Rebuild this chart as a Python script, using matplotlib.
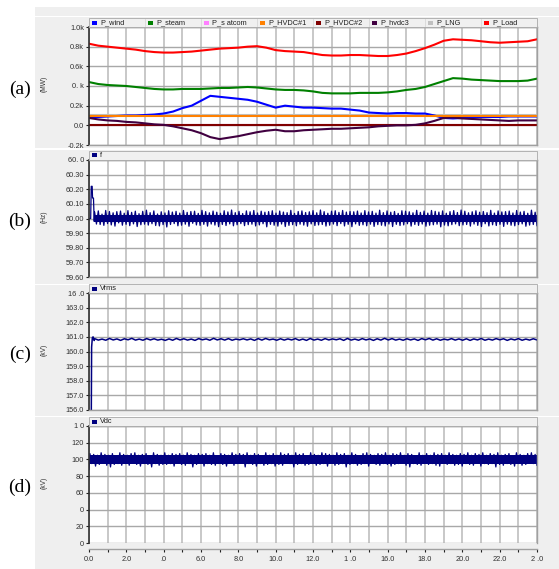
import matplotlib.pyplot as plt
import matplotlib.ticker as mticker
from matplotlib.patches import Rectangle
from matplotlib.lines import Line2D
import numpy as np

plt.rcParams['font.family'] = ['Liberation Sans', 'DejaVu Sans']

W, H = 559, 569

# ---------------- data ----------------
# (a) powers in k(MW), sampled every 0.5 s
t_a = np.arange(0, 24.01, 0.5)
p_load = [0.83, 0.81, 0.80, 0.79, 0.78, 0.77, 0.755, 0.745, 0.74, 0.74, 0.745, 0.75, 0.76,
          0.77, 0.78, 0.785, 0.79, 0.80, 0.805, 0.79, 0.765, 0.755, 0.75, 0.745, 0.73,
          0.715, 0.71, 0.71, 0.715, 0.715, 0.71, 0.705, 0.705, 0.715, 0.73, 0.755, 0.785,
          0.82, 0.86, 0.875, 0.87, 0.865, 0.855, 0.845, 0.84, 0.845, 0.85, 0.855, 0.875]
p_steam = [0.44, 0.42, 0.41, 0.405, 0.40, 0.39, 0.38, 0.37, 0.365, 0.365, 0.37, 0.37, 0.37,
           0.375, 0.38, 0.38, 0.385, 0.39, 0.385, 0.375, 0.365, 0.36, 0.36, 0.355, 0.345,
           0.33, 0.325, 0.325, 0.325, 0.33, 0.33, 0.33, 0.335, 0.345, 0.36, 0.37, 0.39,
           0.42, 0.45, 0.48, 0.475, 0.465, 0.46, 0.455, 0.45, 0.45, 0.45, 0.455, 0.475]
p_wind = [0.08, 0.085, 0.09, 0.095, 0.10, 0.10, 0.105, 0.11, 0.12, 0.14, 0.175, 0.20, 0.25,
          0.30, 0.29, 0.28, 0.27, 0.26, 0.24, 0.21, 0.18, 0.20, 0.19, 0.18, 0.18,
          0.175, 0.17, 0.17, 0.16, 0.15, 0.13, 0.125, 0.12, 0.125, 0.125, 0.12, 0.12,
          0.10, 0.075, 0.07, 0.075, 0.08, 0.085, 0.085, 0.085, 0.09, 0.09, 0.09, 0.09]
p_hvdc3 = [0.075, 0.06, 0.05, 0.045, 0.035, 0.03, 0.02, 0.01, 0.005, -0.01, -0.03, -0.05, -0.08,
           -0.12, -0.14, -0.125, -0.11, -0.09, -0.07, -0.055, -0.045, -0.06, -0.06, -0.05, -0.045,
           -0.04, -0.035, -0.035, -0.03, -0.025, -0.02, -0.01, -0.005, 0.0, 0.0, 0.005, 0.02,
           0.045, 0.075, 0.08, 0.07, 0.065, 0.06, 0.055, 0.05, 0.045, 0.05, 0.05, 0.05]
p_hvdc1 = [0.09] * len(t_a)
p_lng = [0.10] * len(t_a)
p_hvdc2 = [0.0] * len(t_a)
p_statcom = [0.0] * len(t_a)

# (b) frequency: start-up transient, then oscillation (offsets in mHz around 60 Hz)
t_f0 = [0, 0.09, 0.12, 0.17, 0.19, 0.24, 0.28]
f0 = [60.0, 60.0, 60.22, 60.22, 60.14, 60.14, 59.98]
f_core = (59.978, 60.025)
f_dev = [45, -38, 52, -41, 30, -47, 55, -35, 48, -44, 39, -52, 47, -30, 51, -46, 36, -40, 54, -49,
         42, -37, 50, -55, 33, -43, 49, -39, 57, -45, 40, -36, 52, -48, 31, -51, 46, -42, 38, -58,
         53, -41, 44, -35, 49, -50, 37, -46, 55, -39, 42, -53, 48, -33, 50, -44, 35, -47, 56, -40,
         47, -52, 39, -38, 51, -45, 43, -56, 36, -41, 53, -48, 45, -37, 58, -50, 40, -43, 49, -35,
         34, -49, 52, -42, 46, -39, 55, -51, 38, -44, 50, -36, 43, -57, 47, -40, 53, -46, 37, -52,
         51, -38, 44, -55, 40, -47, 56, -42, 35, -50, 48, -39, 52, -45, 41, -53, 46, -37, 54, -48,
         39, -44, 58, -41, 47, -52, 36, -46, 50, -38, 53, -49, 42, -35, 55, -51, 44, -40, 48, -56,
         46, -37, 51, -47, 38, -43, 54, -50, 45, -39, 49, -54, 37, -42, 57, -46, 40, -51, 52, -38,
         43, -55, 48, -40, 35, -48, 53, -44, 50, -36, 46, -52, 39, -41, 56, -47, 42, -38, 51, -53,
         37, -46, 55, -43, 49, -39, 44, -57, 52, -45, 36, -50, 47, -42, 54, -37, 41, -49, 58, -44,
         50, -41, 39, -52, 46, -38, 53, -47, 43, -55, 48, -36, 40, -51, 56, -43, 37, -48, 52, -40,
         45, -54, 47, -39, 51, -46, 38, -50, 55, -42, 44, -37, 49, -53, 36, -45, 57, -41, 43, -49]

# (c) Vrms: start-up then small ripple (offsets in 0.01 kV around 160.82)
t_v0 = [0, 0.12, 0.14, 0.18, 0.22, 0.28]
v0 = [155.0, 155.0, 160.3, 160.95, 161.0, 160.75]
v_dev = [6, -4, 3, -5, 7, -3, 4, -6, 5, -2, 8, -4, 3, -5, 6, -3, 5, -4, 2, -6,
         4, -5, 7, -3, 5, -4, 3, -6, 6, -2, 4, -5, 8, -3, 5, -4, 6, -5, 3, -2,
         5, -3, 4, -6, 6, -4, 7, -2, 3, -5, 5, -4, 4, -3, 6, -5, 3, -6, 7, -4,
         3, -5, 6, -3, 4, -2, 5, -6, 7, -4, 3, -5, 6, -3, 4, -6, 5, -4, 8, -3,
         6, -4, 3, -5, 5, -3, 4, -6, 6, -2, 7, -4, 5, -5, 3, -3, 6, -4, 4, -5,
         5, -6, 4, -3, 7, -5, 3, -4, 6, -2, 5, -6, 4, -3, 6, -5, 3, -4, 5, -3]

# (d) Vdc (offsets in kV around 100)
vdc_start = 88
vdc_core = (95, 105)
vdc_dev = [7, -5, 6, -8, 5, -6, 8, -4, 6, -7, 5, -9, 7, -6, 4, -5, 8, -7, 6, -5,
           5, -7, 7, -4, 8, -6, 5, -8, 6, -5, 7, -6, 4, -9, 8, -5, 6, -7, 5, -6,
           8, -6, 5, -5, 7, -8, 6, -4, 7, -6, 5, -7, 8, -5, 6, -9, 5, -6, 7, -4,
           6, -8, 7, -5, 5, -6, 8, -7, 4, -5, 7, -6, 6, -8, 5, -4, 8, -7, 6, -5,
           7, -4, 6, -9, 8, -5, 5, -6, 7, -8, 6, -5, 4, -7, 8, -6, 5, -5, 7, -8,
           5, -6, 8, -7, 6, -4, 7, -5, 5, -9, 8, -6, 6, -5, 7, -7, 4, -6, 8, -5,
           6, -7, 5, -6, 8, -5, 7, -8, 6, -4, 5, -7, 8, -6, 6, -5, 7, -9, 5, -6,
           8, -5, 6, -7, 4, -6, 7, -5, 8, -8, 6, -4, 5, -6, 7, -7, 6, -5, 8, -6,
           5, -8, 7, -6, 6, -5, 8, -4, 5, -7, 7, -9, 6, -5, 4, -6, 8, -7, 5, -5,
           7, -6, 5, -5, 8, -7, 6, -8, 7, -4, 5, -6, 8, -5, 6, -7, 5, -6, 7, -8,
           6, -5, 8, -6, 5, -7, 7, -4, 6, -8, 8, -5, 5, -6, 7, -5, 6, -9, 8, -6,
           5, -7, 6, -5, 7, -6, 4, -8, 8, -5, 6, -7, 5, -6, 7, -4, 8, -5, 6, -7]

x_ticks = [0, 2, 4, 6, 8, 10, 12, 14, 16, 18, 20, 22, 24]
x_labels = ['0.0', '2.0', '.0', '6.0', '8.0', '10.0', '12.0', '1 .0', '16.0', '18.0', '20.0', '22.0', '2 .0']

ya_ticks = [1.0, 0.8, 0.6, 0.4, 0.2, 0.0, -0.2]
ya_labels = ['1.0k', '0.8k', '0.6k', '0. k', '0.2k', '0.0', '-0.2k']
yb_ticks = [60.4, 60.3, 60.2, 60.1, 60.0, 59.9, 59.8, 59.7, 59.6]
yb_labels = ['60. 0', '60.30', '60.20', '60.10', '60.00', '59.90', '59.80', '59.70', '59.60']
yc_ticks = [164, 163, 162, 161, 160, 159, 158, 157, 156]
yc_labels = ['16 .0', '163.0', '162.0', '161.0', '160.0', '159.0', '158.0', '157.0', '156.0']
yd_ticks = [140, 120, 100, 80, 60, 40, 20, 0]
yd_labels = ['1 0', '120', '100', '80', '60', ' 0', '20', '0']

names_a = ['P_wind', 'P_steam', 'P_s atcom', 'P_HVDC#1', 'P_HVDC#2', 'P_hvdc3', 'P_LNG', 'P_Load']
colors_a = ['#0000ff', '#008000', '#ff80ff', '#ff8000', '#800000', '#400040', '#c0c0c0', '#ff0000']
navy = '#000080'

# ---------------- layout ----------------
fig = plt.figure(figsize=(W / 100, H / 100), dpi=100)


def fx(px):
    return px / W


def fy(py):
    return 1 - py / H


def rect(x0, y0, x1, y1, z=1, **kw):
    fig.patches.append(Rectangle((fx(x0), fy(y1)), (x1 - x0) / W, (y1 - y0) / H,
                                 transform=fig.transFigure, zorder=z, **kw))


# grey panel backgrounds (behind the axes)
for top, bot in [(7, 148.5), (150, 283.5), (285, 415.5), (417, 569)]:
    rect(35, top, 559, bot, z=-10, fc='#efefef', ec='none')
rect(35, 16.3, 559, 17.3, z=-9, fc='white', ec='none')


def legend_strip(top, names, colors):
    rect(89, top, 537, top + 9, fc='#f0f0f0', ec='#a8a8a8', lw=0.6)
    for i, (nm, c) in enumerate(zip(names, colors)):
        x = 92 + 56 * i
        if i > 0:
            fig.add_artist(Line2D([fx(x - 3), fx(x - 3)], [fy(top + 1), fy(top + 8)],
                                  transform=fig.transFigure, color='#d8d8d8', lw=0.6))
        rect(x, top + 2.5, x + 5, top + 6.5, z=2, fc=c, ec='none')
        fig.text(fx(x + 8), fy(top + 4.6), nm, fontsize=5.3, va='center', ha='left',
                 color='#202020')


def make_axes(top, bot, ylim, ticks, labels, unit, panel, bottom_axis=False):
    ax = fig.add_axes([fx(89), fy(bot), (537 - 89) / W, (bot - top) / H])
    ax.set_facecolor('white')
    ax.set_xlim(0, 24)
    ax.set_ylim(*ylim)
    ax.set_yticks(ticks)
    ax.set_yticklabels(labels)
    ax.xaxis.set_major_locator(mticker.MultipleLocator(2))
    ax.xaxis.set_minor_locator(mticker.MultipleLocator(1))
    ax.grid(axis='x', which='both', color='#c8c8c8', lw=1.4)
    ax.grid(axis='y', which='major', color='#a8a8a8', lw=1.0)
    ax.set_axisbelow(True)
    ax.tick_params(axis='y', length=2.5, width=0.8, color='#202020', labelsize=5.3,
                   pad=1, labelcolor='#303030')
    ax.spines['left'].set_color('#303030')
    ax.spines['left'].set_linewidth(1.2)
    for s in ['top', 'right', 'bottom']:
        ax.spines[s].set_color('#a0a0a0')
        ax.spines[s].set_linewidth(1.0)
    if bottom_axis:
        ax.spines['bottom'].set_position(('outward', 4))
        ax.set_xticks(x_ticks)
        ax.set_xticklabels(x_labels)
        ax.tick_params(axis='x', which='both', length=2.5, width=0.8, color='#202020',
                       labelsize=5.3, pad=3, labelcolor='#303030')
    else:
        ax.tick_params(axis='x', which='both', length=0, labelbottom=False)
    fig.text(fx(44), fy((top + bot) / 2 - 2), unit, rotation=90, fontsize=4.8,
             ha='center', va='center', color='#303030')
    fig.text(fx(20), fy((top + bot) / 2 + 3), panel, fontsize=14,
             family=['Liberation Serif', 'DejaVu Serif'], ha='center', va='center')
    return ax


# (a)
legend_strip(18, names_a, colors_a)
ax_a = make_axes(27, 145, (-0.2, 1.0), ya_ticks, ya_labels, '(MW)', '(a)')
order = [6, 2, 4, 0, 5, 3, 1, 7]
series_a = [p_wind, p_steam, p_statcom, p_hvdc1, p_hvdc2, p_hvdc3, p_lng, p_load]
for i in order:
    ax_a.plot(t_a, series_a[i], color=colors_a[i], lw=1.5)

# (b)
legend_strip(151, ['f'], [navy])
ax_b = make_axes(160, 277, (59.6, 60.4), yb_ticks, yb_labels, '(Hz)', '(b)')
t_fb = np.linspace(0.3, 24, len(f_dev))
ax_b.fill_between([0.3, 24], f_core[0], f_core[1], color=navy, lw=0)
ax_b.plot(list(t_f0) + list(t_fb), f0 + [60.0 + d / 1000 for d in f_dev], color=navy, lw=0.9)

# (c)
legend_strip(284, ['Vrms'], [navy])
ax_c = make_axes(293, 410, (156, 164), yc_ticks, yc_labels, '(kV)', '(c)')
t_vc = np.linspace(0.3, 24, len(v_dev))
ax_c.plot(list(t_v0) + list(t_vc), v0 + [160.82 + d / 100 for d in v_dev], color=navy, lw=1.1)

# (d)
legend_strip(417, ['Vdc'], [navy])
ax_d = make_axes(426, 543, (0, 140), yd_ticks, yd_labels, '(kV)', '(d)', bottom_axis=True)
t_vd = np.linspace(0.05, 24, len(vdc_dev))
ax_d.fill_between([0.05, 24], vdc_core[0], vdc_core[1], color=navy, lw=0)
ax_d.plot([0] + list(t_vd), [vdc_start] + [100 + d for d in vdc_dev], color=navy, lw=0.9)

fig.savefig('out.png', dpi=100)
